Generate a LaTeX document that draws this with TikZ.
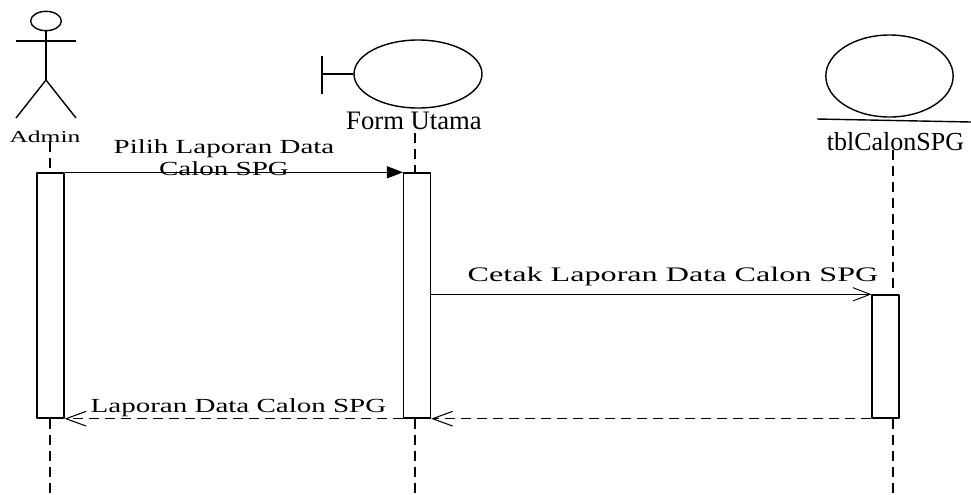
\documentclass[tikz,border=0pt]{standalone}
\usepackage{fontspec}
\setmainfont{Liberation Serif}
\usetikzlibrary{arrows.meta,shapes.geometric}
\tikzset{
	garis/.style={line width=1.05pt,black},
	bulat/.style={draw,ellipse,line width=1.05pt,inner sep=0pt},
	aktif/.style={draw,rectangle,line width=1.05pt,inner sep=0pt,minimum width=20pt,minimum height=#1},
	lifeline/.style={line width=.95pt,dash pattern=on 7.5pt off 4.5pt},
	pesan/.style={font=\fontsize{15}{16.5}\selectfont,align=center,xscale=1.45,transform shape,inner sep=0pt},
	nama/.style={font=\fontsize{20}{23}\selectfont,inner sep=0pt}
}
\begin{document}
\begin{tikzpicture}[x=.75pt,y=-.75pt,line join=round]
	\useasboundingbox (0,0) rectangle (971,494);

	% Teks pesan
	\node[pesan,xscale=1.073,font=\fontsize{15.5}{17}\selectfont] (lblCetak) at (673,277) {Cetak Laporan Data Calon SPG};
	\node[pesan] (lblPilih) at (224,157.5) {Pilih Laporan Data\\Calon SPG};
	\node[pesan] (lblLaporan) at (238.5,408) {Laporan Data Calon SPG};

	% Aktor Admin
	\node[bulat,minimum width=23pt,minimum height=14.5pt] (kepala) at (46,21) {};
	\coordinate (tangan1) at (16,41);
	\coordinate (tangan2) at (76,41);
	\coordinate (pinggul) at (46,80);
	\coordinate (kaki1) at (16,118);
	\coordinate (kaki2) at (76,118);
	\draw[garis] (kepala) -- (pinggul);
	\draw[garis] (tangan1) -- (tangan2);
	\draw[garis] (kaki1) -- (pinggul) -- (kaki2);
	\node[font=\fontsize{12.5}{14}\selectfont,xscale=1.53,transform shape,inner sep=0pt] (admin) at (45,137) {Admin};

	% Boundary Form Utama
	\node[bulat,minimum width=96pt,minimum height=51pt] (form) at (418,74) {};
	\coordinate (batasAtas) at (322,56);
	\coordinate (batasBawah) at (322,94);
	\coordinate (batasTengah) at (322,74);
	\draw[garis] (batasAtas) -- (batasBawah);
	\draw[garis] (batasTengah) -- (form.west);
	\node[nama] (formNama) at (414,121) {Form Utama};

	% Entity tblCalonSPG
	\node[bulat,minimum width=95.5pt,minimum height=61.5pt] (tabel) at (889.5,76) {};
	\coordinate (alasKiri) at (817,119);
	\coordinate (alasKanan) at (971,122);
	\draw[garis] (alasKiri) -- (alasKanan);
	\node[nama,font=\fontsize{19.5}{23}\selectfont] (tabelNama) at (895.5,142) {tblCalonSPG};

	% Batang aktivasi
	\node[aktif=183.75pt] (barAdmin) at (50.5,295.5) {};
	\node[aktif=183.75pt] (barForm) at (417,295.5) {};
	\node[aktif=92.25pt] (barTabel) at (885.5,356.5) {};

	% Garis hidup
	\coordinate (ujungAdmin) at (50,494);
	\coordinate (ujungForm) at (415,494);
	\coordinate (ujungTabel) at (893,494);
	\coordinate (awalAdmin) at (50,142);
	\coordinate (awalForm) at (415,133);
	\coordinate (awalTabel) at (893,150);
	\draw[lifeline] (awalAdmin) -- (awalAdmin |- barAdmin.north);
	\draw[lifeline] (awalAdmin |- barAdmin.south) -- (ujungAdmin);
	\draw[lifeline] (awalForm) -- (awalForm |- barForm.north);
	\draw[lifeline] (awalForm |- barForm.south) -- (ujungForm);
	\draw[lifeline] (awalTabel) -- (awalTabel |- barTabel.north);
	\draw[lifeline] (awalTabel |- barTabel.south) -- (ujungTabel);

	% Pesan antar objek
	\draw[line width=.9pt,-{Triangle[length=12pt,width=9pt]}] (barAdmin.north east) -- (barForm.north west);
	\draw[line width=.7pt,-{Straight Barb[length=13pt,width=10pt]}] (barForm.east |- barTabel.north) -- (barTabel.north west);
	\draw[line width=.8pt,dash pattern=on 7.5pt off 4.5pt,-{Straight Barb[length=15pt,width=11pt]}] (barTabel.south west) -- (barForm.south east);
	\draw[line width=.8pt,dash pattern=on 7.5pt off 4.5pt,-{Straight Barb[length=15pt,width=11pt]}] (barForm.south west) -- (barAdmin.south east);
\end{tikzpicture}
\end{document}
